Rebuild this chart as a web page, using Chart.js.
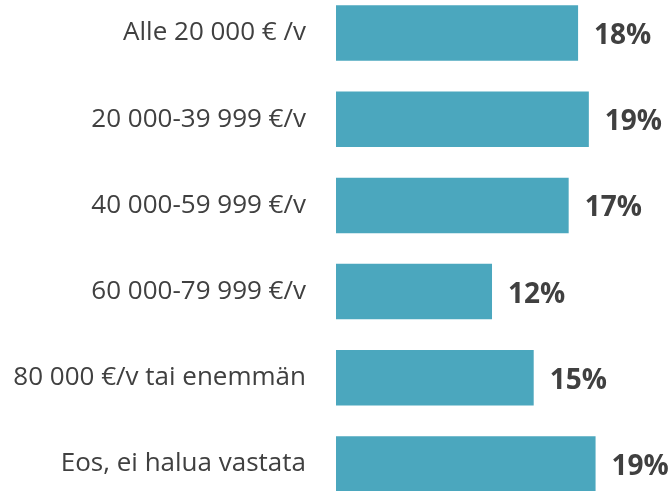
<!DOCTYPE html>
<html>
<head>
<meta charset="utf-8">
<script src="https://cdn.jsdelivr.net/npm/chart.js@4"></script>
<style>
    html, body { margin: 0; padding: 0; background: #fff; overflow: hidden; }
    body { width: 669px; height: 491px; position: relative; }
    #chart { position: absolute; left: 0; top: -10px; }
</style>
</head>
<body>
<canvas id="chart" width="669" height="517"></canvas>
<script>
const categories = [
    'Alle 20 000 € /v',
    '20 000-39 999 €/v',
    '40 000-59 999 €/v',
    '60 000-79 999 €/v',
    '80 000 €/v tai enemmän',
    'Eos, ei halua vastata'
];
const shares = [18.0, 18.8, 17.3, 11.6, 14.7, 19.3];
const valueLabels = ['18%', '19%', '17%', '12%', '15%', '19%'];

const barColor = '#4BA7BE';
const textColor = '#404040';

// etiketit pylväiden perään
const valueLabelPlugin = {
    id: 'valueLabels',
    afterDatasetsDraw(chart) {
        const ctx = chart.ctx;
        const meta = chart.getDatasetMeta(0);
        ctx.save();
        ctx.font = 'bold 28px "Open Sans"';
        ctx.fillStyle = textColor;
        ctx.textAlign = 'left';
        ctx.textBaseline = 'alphabetic';
        meta.data.forEach((bar, i) => {
            ctx.fillText(valueLabels[i], bar.x + 16, bar.y + 11);
        });
        ctx.restore();
    }
};

new Chart(document.getElementById('chart'), {
    type: 'bar',
    data: {
        labels: categories,
        datasets: [{
            data: shares,
            backgroundColor: barColor,
            borderWidth: 0,
            categoryPercentage: 1,
            barPercentage: 0.644
        }]
    },
    options: {
        indexAxis: 'y',
        responsive: false,
        animation: false,
        layout: { padding: 0 },
        scales: {
            x: { display: false, min: 0, max: 24.76 },
            y: {
                afterFit(scale) {
                    scale.width = 336;
                    scale.paddingTop = 0;
                    scale.paddingBottom = 0;
                },
                grid: { display: false, drawTicks: false },
                border: { display: false },
                ticks: {
                    padding: 30,
                    color: textColor,
                    font: { family: '"Open Sans"', size: 26 }
                }
            }
        },
        plugins: {
            legend: { display: false },
            tooltip: { enabled: false }
        }
    },
    plugins: [valueLabelPlugin]
});
</script>
</body>
</html>
